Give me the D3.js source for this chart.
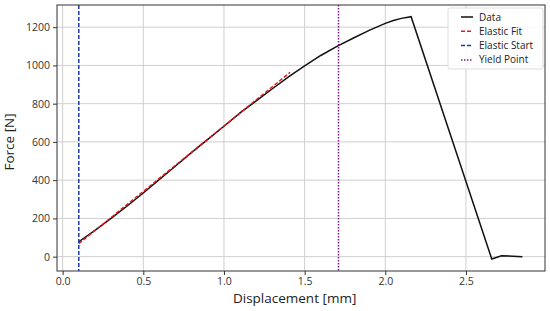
<!DOCTYPE html>
<html>
<head>
<meta charset="utf-8">
<script src="https://cdn.jsdelivr.net/npm/d3@7"></script>
<style>
  body { margin: 0; background: #fff; }
  text { font-family: "Open Sans", "DejaVu Sans", sans-serif; }
</style>
</head>
<body>
<div id="chart"></div>
<script>
// measured curve (displacement mm, force N)
var dispData = [0.1, 0.2, 0.3, 0.4, 0.5, 0.6, 0.7, 0.8, 0.9, 1.0, 1.1, 1.2, 1.3, 1.4, 1.5, 1.6, 1.7, 1.8, 1.9, 2.0, 2.05, 2.1, 2.16, 2.66, 2.72, 2.85];
var forceData = [78, 138, 200, 265, 333, 404, 474, 545, 613, 682, 752, 815, 878, 940, 998, 1052, 1100, 1142, 1183, 1220, 1235, 1246, 1255, -12, 5, 0];

// elastic fit line end points
var fitDisp = [0.1, 1.41];
var fitForce = [68, 964];

var elasticStart = 0.1;
var yieldPoint = 1.71;

var xTicks = [0.0, 0.5, 1.0, 1.5, 2.0, 2.5];
var yTicks = [0, 200, 400, 600, 800, 1000, 1200];

var legendNames = ["Data", "Elastic Fit", "Elastic Start", "Yield Point"];

// set the dimensions and margins of the graph
var margin = {top: 5, right: 5, bottom: 40, left: 57},
    width = 545 - margin.left,
    height = 271 - margin.top;

var svg = d3.select("#chart")
    .append("svg")
    .attr("width", 550)
    .attr("height", 311)
    .append("g")
    .attr("transform", "translate(" + margin.left + "," + margin.top + ")");

var x = d3.scaleLinear()
    .domain([-0.035, 2.99])
    .range([0, width]);

var y = d3.scaleLinear()
    .domain([-75, 1316])
    .range([height, 0]);

// grid
svg.append("g")
    .selectAll("line.gx")
    .data(xTicks)
    .enter()
    .append("line")
    .attr("x1", function(d) { return x(d); })
    .attr("x2", function(d) { return x(d); })
    .attr("y1", 0)
    .attr("y2", height)
    .attr("stroke", "#cfcfcf")
    .attr("stroke-width", 1);

svg.append("g")
    .selectAll("line.gy")
    .data(yTicks)
    .enter()
    .append("line")
    .attr("x1", 0)
    .attr("x2", width)
    .attr("y1", function(d) { return y(d); })
    .attr("y2", function(d) { return y(d); })
    .attr("stroke", "#cfcfcf")
    .attr("stroke-width", 1);

// axes
var xAxis = svg.append("g")
    .attr("transform", "translate(0," + height + ")")
    .call(d3.axisBottom(x).tickValues(xTicks).tickFormat(d3.format(".1f")).tickSizeOuter(0).tickSize(4).tickPadding(3));

var yAxis = svg.append("g")
    .call(d3.axisLeft(y).tickValues(yTicks).tickFormat(d3.format("d")).tickSizeOuter(0).tickSize(4).tickPadding(3));

[xAxis, yAxis].forEach(function(a) {
    a.select(".domain").remove();
    a.selectAll("line").attr("stroke", "#333");
    a.selectAll("text").attr("fill", "#333").style("font-size", "10.5px")
        .style("font-family", "'Open Sans', 'DejaVu Sans', sans-serif");
});

// frame
svg.append("rect")
    .attr("x", 0)
    .attr("y", 0)
    .attr("width", width)
    .attr("height", height)
    .attr("fill", "none")
    .attr("stroke", "#333")
    .attr("stroke-width", 1);

// data curve
var pts = dispData.map(function(d, i) { return [d, forceData[i]]; });
var line = d3.line()
    .x(function(d) { return x(d[0]); })
    .y(function(d) { return y(d[1]); });

svg.append("path")
    .datum(pts)
    .attr("d", line)
    .attr("fill", "none")
    .attr("stroke", "#111")
    .attr("stroke-width", 1.5);

// elastic fit
svg.append("path")
    .datum(fitDisp.map(function(d, i) { return [d, fitForce[i]]; }))
    .attr("d", line)
    .attr("fill", "none")
    .attr("stroke", "#e8161e")
    .attr("stroke-width", 1.4)
    .attr("stroke-dasharray", "4,2");

// vertical markers
svg.append("line")
    .attr("x1", x(elasticStart))
    .attr("x2", x(elasticStart))
    .attr("y1", 0)
    .attr("y2", height)
    .attr("stroke", "#1f3aa5")
    .attr("stroke-width", 1.5)
    .attr("stroke-dasharray", "4,2");

svg.append("line")
    .attr("x1", x(yieldPoint))
    .attr("x2", x(yieldPoint))
    .attr("y1", 0)
    .attr("y2", height)
    .attr("stroke", "#7d1a85")
    .attr("stroke-width", 1.5)
    .attr("stroke-dasharray", "1.5,1.5");

// axis labels
svg.append("text")
    .attr("x", x(1.5) - 10)
    .attr("y", height + 32)
    .style("text-anchor", "middle")
    .style("font-size", "13.5px")
    .attr("fill", "#222")
    .text("Displacement [mm]");

svg.append("text")
    .attr("transform", "rotate(-90)")
    .attr("x", -(y(600)))
    .attr("y", -43)
    .style("text-anchor", "middle")
    .style("font-size", "13.5px")
    .attr("fill", "#222")
    .text("Force [N]");

// legend
var legColors = ["#111", "#e8161e", "#1f3aa5", "#7d1a85"];
var legDash = [null, "4,2", "4,2", "1.5,1.5"];
var leg = svg.append("g")
    .attr("transform", "translate(" + (448 - margin.left) + "," + (8 - margin.top) + ")");

leg.append("rect")
    .attr("width", 95)
    .attr("height", 61)
    .attr("rx", 2)
    .attr("fill", "#fff")
    .attr("fill-opacity", 0.85)
    .attr("stroke", "#ddd");

var items = leg.selectAll("g.item")
    .data(legendNames)
    .enter()
    .append("g")
    .attr("transform", function(d, i) { return "translate(0," + (9 + i * 14.3) + ")"; });

items.append("line")
    .attr("x1", 13)
    .attr("x2", 25)
    .attr("stroke", function(d, i) { return legColors[i]; })
    .attr("stroke-width", 1.5)
    .attr("stroke-dasharray", function(d, i) { return legDash[i]; });

items.append("text")
    .attr("x", 31)
    .attr("dy", "0.35em")
    .style("font-size", "10px")
    .attr("fill", "#222")
    .text(function(d) { return d; });
</script>
</body>
</html>
